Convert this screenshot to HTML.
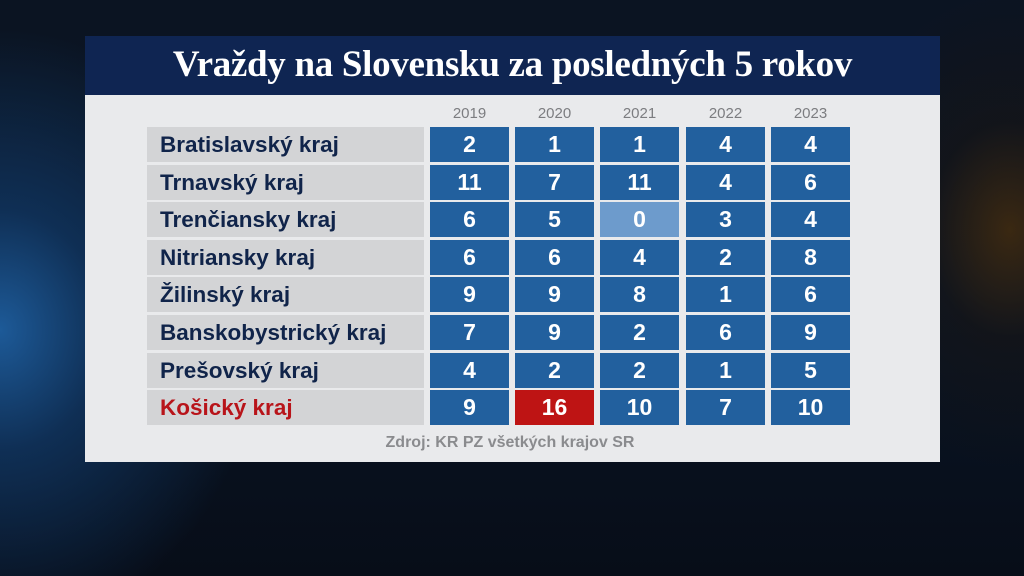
<!DOCTYPE html>
<html><head><meta charset="utf-8"><style>
body{margin:0;width:1024px;height:576px;overflow:hidden;position:relative;font-family:"Liberation Sans",sans-serif;
background:radial-gradient(ellipse 260px 300px at 0px 330px,#1d5a98 0%,#0f2f55 40%,rgba(8,18,35,0) 100%),radial-gradient(ellipse 180px 240px at 1010px 230px,#3a2812 0%,rgba(30,20,12,0.4) 45%,rgba(0,0,0,0) 100%),linear-gradient(180deg,#0b1422 0%,#0a1626 50%,#070d18 100%);}
.hdr{position:absolute;left:85px;top:36px;width:855px;height:59px;background:#0f2552;color:#fff;font-family:"Liberation Serif",serif;font-weight:bold;font-size:37px;text-align:center;line-height:58px;letter-spacing:-0.3px}
.pan{position:absolute;left:85px;top:95px;width:855px;height:367px;background:#e9eaec}
.lab{position:absolute;left:147px;width:277px;height:35px;background:#d3d4d6;color:#10244a;font-weight:bold;font-size:22.5px;line-height:35px;padding-left:13px;box-sizing:border-box}
.c{position:absolute;width:79px;height:35px;background:#22609e;color:#fff;font-weight:bold;font-size:23px;line-height:35px;text-align:center}
.y{position:absolute;top:105px;width:79px;text-align:center;color:#7c7d80;font-size:15px}
.src{position:absolute;left:300px;width:420px;top:434px;text-align:center;color:#8a8b8e;font-size:16px;font-weight:bold}
</style></head><body>
<div class="hdr">Vraždy na Slovensku za posledných 5 rokov</div>
<div class="pan"></div>
<div id="g"></div>
<div class="src">Zdroj: KR PZ všetkých krajov SR</div>
<script>
var rows=[["Bratislavský kraj",2,1,1,4,4],["Trnavský kraj",11,7,11,4,6],["Trenčiansky kraj",6,5,0,3,4],["Nitriansky kraj",6,6,4,2,8],["Žilinský kraj",9,9,8,1,6],["Banskobystrický kraj",7,9,2,6,9],["Prešovský kraj",4,2,2,1,5],["Košický kraj",9,16,10,7,10]];
var xs=[430,515,600,686,771],h="";
["2019","2020","2021","2022","2023"].forEach(function(y,i){h+='<div class="y" style="left:'+xs[i]+'px">'+y+'</div>'});
rows.forEach(function(r,i){var t=127+i*37.6;
h+='<div class="lab" style="top:'+t+'px'+(i==7?';color:#b8141a':'')+'">'+r[0]+'</div>';
for(var j=0;j<5;j++){var bg='';if(i==2&&j==2)bg=';background:#6d9bcc';if(i==7&&j==1)bg=';background:#be1414';
h+='<div class="c" style="left:'+xs[j]+'px;top:'+t+'px'+bg+'">'+r[j+1]+'</div>';}});
document.getElementById('g').innerHTML=h;
</script>
</body></html>
